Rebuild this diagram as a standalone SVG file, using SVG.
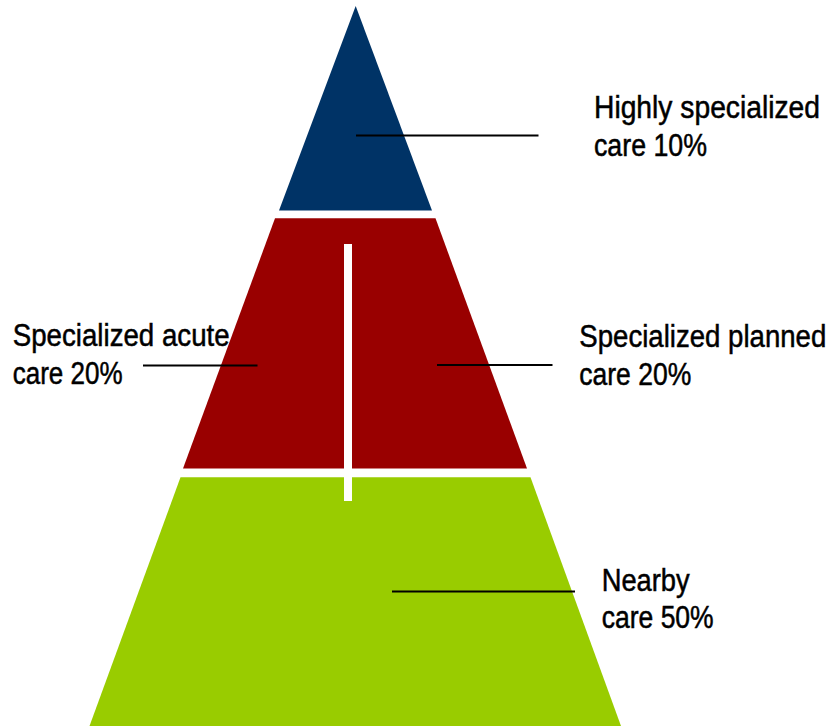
<svg xmlns="http://www.w3.org/2000/svg" width="832" height="726" viewBox="0 0 832 726">
  <style>
    .lbl { font-family: "Liberation Sans Narrow", "Liberation Sans", Arial, sans-serif; font-size: 31px; fill: #000000; stroke: #000000; stroke-width: 0.5px; }
    .conn { stroke: #000000; stroke-width: 2; fill: none; }
  </style>
  <rect width="832" height="726" fill="#ffffff"/>
  <g id="tier-highly-specialized">
    <polygon points="355.7,6 279,210.5 432,210.5" fill="#003366"/>
  </g>
  <g id="tier-specialized">
    <polygon points="275,218.3 435.5,218.3 527,468.5 183,468.5" fill="#990000"/>
  </g>
  <g id="tier-nearby">
    <polygon points="180.5,477.3 530.5,477.3 621,726 89.5,726" fill="#99CC00"/>
  </g>
  <g id="divider">
    <rect x="344" y="244" width="8" height="257" fill="#ffffff"/>
  </g>
  <g id="connectors">
    <line class="conn" x1="356" y1="135.5" x2="538.5" y2="135.5"/>
    <line class="conn" x1="143" y1="365.5" x2="257.5" y2="365.5"/>
    <line class="conn" x1="437" y1="365" x2="552.5" y2="365"/>
    <line class="conn" x1="392" y1="591.5" x2="575" y2="591.5"/>
  </g>
  <g id="label-highly-specialized">
    <text class="lbl" x="594" y="118" textLength="226" lengthAdjust="spacingAndGlyphs">Highly specialized</text>
    <text class="lbl" x="594" y="155.5" textLength="113" lengthAdjust="spacingAndGlyphs">care 10%</text>
  </g>
  <g id="label-specialized-acute">
    <text class="lbl" x="12.7" y="346" textLength="217" lengthAdjust="spacingAndGlyphs">Specialized acute</text>
    <text class="lbl" x="12.7" y="383.5" textLength="110" lengthAdjust="spacingAndGlyphs">care 20%</text>
  </g>
  <g id="label-specialized-planned">
    <text class="lbl" x="579.3" y="347" textLength="247" lengthAdjust="spacingAndGlyphs">Specialized planned</text>
    <text class="lbl" x="579.3" y="385" textLength="112" lengthAdjust="spacingAndGlyphs">care 20%</text>
  </g>
  <g id="label-nearby">
    <text class="lbl" x="601.7" y="591" textLength="88" lengthAdjust="spacingAndGlyphs">Nearby</text>
    <text class="lbl" x="601.7" y="627.5" textLength="112" lengthAdjust="spacingAndGlyphs">care 50%</text>
  </g>
</svg>
